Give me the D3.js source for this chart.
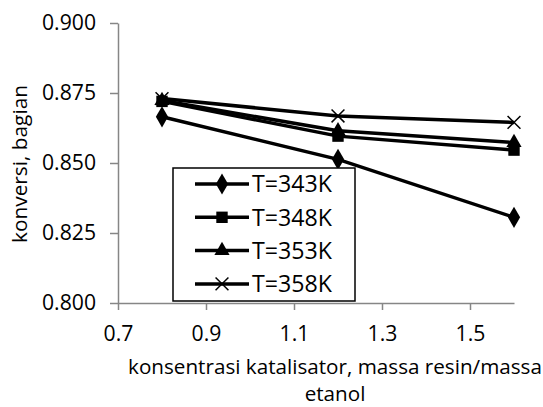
<!DOCTYPE html>
<html>
<head>
<meta charset="utf-8">
<script src="https://cdn.jsdelivr.net/npm/d3@7"></script>
<style>
  body { margin: 0; background: #fff; }
  text { font-family: "Open Sans", sans-serif; fill: #000; }
</style>
</head>
<body>
<div id="plot"></div>
<script>
// data
var xValues = [0.8, 1.2, 1.6];
var seriesNames = ["T=343K", "T=348K", "T=353K", "T=358K"];
var seriesSymbols = ["diamond", "square", "triangle", "cross"];
var t343 = [0.8665, 0.8513, 0.8306];
var t348 = [0.8720, 0.8596, 0.8546];
var t353 = [0.8723, 0.8615, 0.8573];
var t358 = [0.8730, 0.8668, 0.8645];
var xTicks = [0.7, 0.9, 1.1, 1.3, 1.5];
var yTicks = [0.800, 0.825, 0.850, 0.875, 0.900];

var allSeries = [t343, t348, t353, t358];

var W = 543, H = 407;
var svg = d3.select("#plot").append("svg")
    .attr("width", W)
    .attr("height", H);

var x = d3.scaleLinear().domain([0.7, 1.6]).range([118, 514]);
var y = d3.scaleLinear().domain([0.8, 0.9]).range([303, 23]);

// fit a text to the width it has in the picture
function fitText(t, w) {
  var fs = 20;
  t.style("font-size", fs + "px");
  var len = t.node().getComputedTextLength();
  t.style("font-size", (fs * w / len).toFixed(2) + "px");
}

// axes
var xAxis = svg.append("g")
    .attr("transform", "translate(0," + y(0.8) + ")")
    .call(d3.axisBottom(x).tickValues(xTicks).tickSize(7).tickSizeOuter(0)
      .tickFormat(d3.format(".1f")));
var yAxis = svg.append("g")
    .attr("transform", "translate(" + x(0.7) + ",0)")
    .call(d3.axisLeft(y).tickValues(yTicks).tickSize(8).tickSizeOuter(0)
      .tickFormat(d3.format(".3f")));

[xAxis, yAxis].forEach(function(a) {
  a.select(".domain").attr("stroke", "#868686").attr("stroke-width", 1.5);
  a.selectAll(".tick line").attr("stroke", "#868686").attr("stroke-width", 1.5);
  a.selectAll(".tick text").attr("fill", "#000");
});
// "0.900" is about 54px wide in the picture
var tickFs = (function() {
  var t = svg.append("text").style("font-size", "20px").text("0.900");
  var len = t.node().getComputedTextLength();
  t.remove();
  return 20 * 54 / len;
})();
svg.selectAll(".tick text").style("font-size", tickFs.toFixed(2) + "px");
xAxis.selectAll(".tick text").attr("y", 23);
yAxis.selectAll(".tick text").attr("x", -22);

var yTitle = svg.append("text")
    .attr("text-anchor", "middle")
    .attr("transform", "rotate(-90)")
    .attr("x", -164)
    .attr("y", 27)
    .text("konversi, bagian");
fitText(yTitle, 158);

var xTitle = svg.append("text")
    .attr("text-anchor", "middle")
    .attr("x", 335)
    .attr("y", 374)
    .text("konsentrasi katalisator, massa resin/massa");
fitText(xTitle, 414);
svg.append("text")
    .attr("text-anchor", "middle")
    .attr("x", 335)
    .attr("y", 401)
    .style("font-size", xTitle.style("font-size"))
    .text("etanol");

var symbolType = {
  diamond: d3.symbolDiamond,
  square: d3.symbolSquare,
  triangle: d3.symbolTriangle,
  cross: d3.symbolX
};
var symbolSize = { diamond: 130, square: 130, triangle: 100, cross: 110 };

function drawMarker(g, kind, cx, cy) {
  var p = g.append("path")
      .attr("transform", "translate(" + cx + "," + cy + ")")
      .attr("d", d3.symbol().type(symbolType[kind]).size(symbolSize[kind])());
  if (kind === "cross") {
    p.attr("fill", "none").attr("stroke", "#000").attr("stroke-width", 1.5);
  } else {
    p.attr("fill", "#000");
  }
}

var line = d3.line()
    .x(function(d, i) { return x(xValues[i]); })
    .y(function(d) { return y(d); });

allSeries.forEach(function(s, k) {
  var g = svg.append("g");
  g.append("path")
      .attr("d", line(s))
      .attr("fill", "none")
      .attr("stroke", "#000")
      .attr("stroke-width", 3.5);
  s.forEach(function(v, i) {
    drawMarker(g, seriesSymbols[k], x(xValues[i]), y(v));
  });
});

// legend
var leg = svg.append("g");
leg.append("rect")
    .attr("x", 173).attr("y", 168)
    .attr("width", 182).attr("height", 133)
    .attr("fill", "#fff")
    .attr("stroke", "#000")
    .attr("stroke-width", 1.5);
seriesNames.forEach(function(name, k) {
  var ly = 184 + k * 33.3;
  leg.append("line")
      .attr("x1", 195).attr("x2", 249)
      .attr("y1", ly).attr("y2", ly)
      .attr("stroke", "#000").attr("stroke-width", 3.5);
  drawMarker(leg, seriesSymbols[k], 222, ly);
  var t = leg.append("text")
      .attr("x", 252).attr("y", ly)
      .attr("dy", "0.36em")
      .text(name);
  fitText(t, 80);
});
</script>
</body>
</html>
